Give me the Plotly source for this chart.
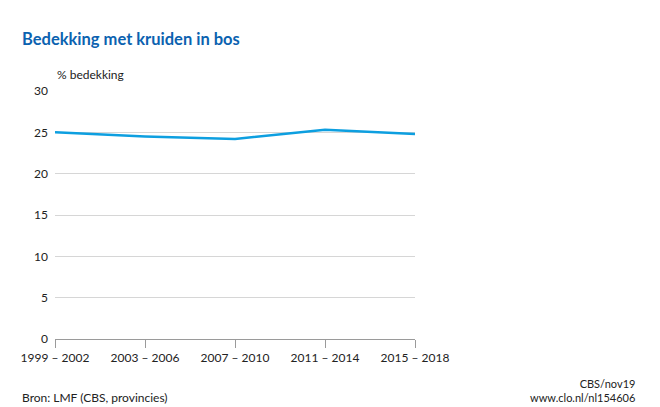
import plotly.graph_objects as go

# data
periods = ["1999 – 2002", "2003 – 2006", "2007 – 2010", "2011 – 2014", "2015 – 2018"]
bedekking = [25.0, 24.5, 24.2, 25.3, 24.8]
y_ticks = [0, 5, 10, 15, 20, 25, 30]

FONT = "Lato"
TXT = "#222222"

fig = go.Figure()
fig.add_trace(go.Scatter(
    x=periods, y=bedekking, mode="lines",
    line=dict(color="#0d9fe0", width=2.5),
    hovertemplate="%{x}: %{y}%<extra></extra>"))

fig.update_layout(
    width=660, height=407,
    margin=dict(l=55, r=245, t=91, b=68),
    plot_bgcolor="white", paper_bgcolor="white",
    showlegend=False,
    font=dict(family=FONT, size=12, color=TXT),
    xaxis=dict(
        type="category", range=[0, 4],
        showgrid=False, zeroline=False,
        showline=True, linecolor="#9a9a9a", linewidth=1,
        ticks="outside", ticklen=8, tickcolor="#9a9a9a",
        tickfont=dict(family=FONT, size=12, color=TXT)),
    yaxis=dict(
        range=[0, 30], tickvals=y_ticks,
        showgrid=True, gridcolor="#d6d6d6", gridwidth=1,
        zeroline=False, showline=False,
        ticks="", ticklabelstandoff=6,
        tickfont=dict(family=FONT, size=12, color=TXT)),
)

fig.add_annotation(text="<b>Bedekking met kruiden in bos</b>", xref="paper", yref="paper",
    x=-35/360, y=1 + 40/248, xanchor="left", yanchor="bottom", showarrow=False,
    font=dict(family=FONT, size=16.5, color="#0b62b0"))
fig.add_annotation(text="% bedekking", xref="paper", yref="paper",
    x=0, y=1 + 7/248, xanchor="left", yanchor="bottom", showarrow=False,
    font=dict(family=FONT, size=12, color=TXT))
fig.add_annotation(text="Bron: LMF (CBS, provincies)", xref="paper", yref="paper",
    x=-35/360, y=-49/248, xanchor="left", yanchor="top", showarrow=False,
    font=dict(family=FONT, size=12, color=TXT))
fig.add_annotation(text="CBS/nov19<br>www.clo.nl/nl154606", xref="paper", yref="paper",
    x=1 + 222/360, y=-36/248, xanchor="right", yanchor="top", align="right",
    showarrow=False, font=dict(family=FONT, size=11, color=TXT))

# page body has a default 8px margin; drop it so the figure sits at (0, 0)
fig.write_html("out.html", config={"displayModeBar": False},
               post_script="document.body.style.margin='0';")
